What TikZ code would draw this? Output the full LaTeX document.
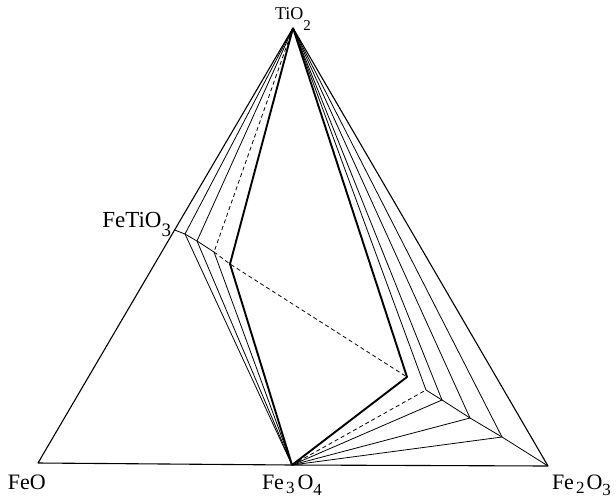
\documentclass[tikz,border=0pt]{standalone}
\usepackage{fontspec}
\setmainfont{Liberation Serif}
\usetikzlibrary{calc}
\newcommand\lowsub[3]{\raisebox{-#1}{\fontsize{#2}{#2}\selectfont #3}}
\tikzset{
  thinline/.style={line width=0.8pt, line join=round},
  outerline/.style={line width=1.1pt, line join=round},
  boldline/.style={line width=1.9pt, line join=round},
  dashline/.style={line width=0.8pt, dash pattern=on 4pt off 3pt},
  lab/.style={inner sep=0pt, outer sep=0pt},
}
\begin{document}
\begin{tikzpicture}[x=1pt, y=-1pt]
\useasboundingbox (0,0) rectangle (616,499);
% vertices
\coordinate (T) at (293,28);
\coordinate (F) at (38,463);
\coordinate (M) at (292,465);
\coordinate (H) at (548,466);
\coordinate (Q0) at ($(T)!0.4644!(F)$);
\coordinate (Q1) at (185,234);
\coordinate (Q2) at (197,241);
\coordinate (Q3) at (214,252);
\coordinate (Q4) at (230,264);
\coordinate (P0) at (407,377);
\coordinate (P1) at (426,390);
\coordinate (P2) at (442,400);
\coordinate (P3) at (470,418);
\coordinate (P4) at (502,437);
% outer triangle
\draw[outerline] (T) -- (F) -- (M) -- (H) -- cycle;
% left fan
\draw[thinline] (Q0) -- (Q1) -- (Q2) -- (Q3);
\draw[dashline] (Q3) -- (Q4) -- (P0);
\draw[thinline] (T) -- (Q1);
\draw[thinline] (T) -- (Q2);
\draw[dashline] (T) -- (Q3);
\draw[thinline] (Q1) -- (M);
\draw[thinline] (Q2) -- (M);
\draw[thinline] (Q3) -- (M);
\draw[boldline] (T) -- (Q4) -- (M);
% right fan
\draw[thinline] (P1) -- (P2) -- (P3) -- (P4) -- (H);
\draw[thinline] (T) -- (P1);
\draw[thinline] (T) -- (P2);
\draw[thinline] (T) -- (P3);
\draw[thinline] (T) -- (P4);
\draw[dashline] (M) -- (P1);
\draw[thinline] (M) -- (P2);
\draw[thinline] (M) -- (P3);
\draw[thinline] (M) -- (P4);
\draw[boldline] (T) -- (P0) -- (M);
% labels
\node[lab, anchor=base] (lTiO) at (293,19) {\fontsize{18}{18}\selectfont TiO\lowsub{11pt}{15}{2}};
\node[lab, anchor=base east] (lFeTiO) at (171,227) {\fontsize{23}{23}\selectfont FeTiO\lowsub{9pt}{19}{3}};
\node[lab, anchor=base west] (lFeO) at (8,489) {\fontsize{22}{22}\selectfont FeO};
\node[lab, anchor=base west] (lFeIII) at (262,489) {\fontsize{22}{22}\selectfont Fe\kern2pt\lowsub{4pt}{17}{3}\kern3pt O\lowsub{6pt}{17}{4}};
\node[lab, anchor=base west] (lFeII) at (552,489) {\fontsize{22}{22}\selectfont Fe\kern2pt\lowsub{4pt}{17}{2}\kern2pt O\lowsub{6pt}{17}{3}};
\end{tikzpicture}
\end{document}
